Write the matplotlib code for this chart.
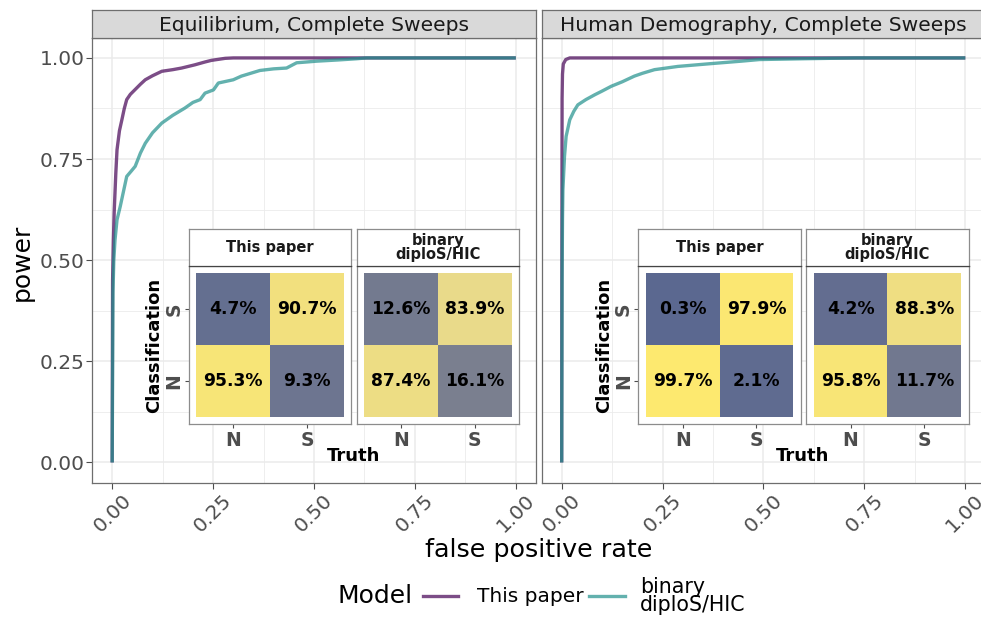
import numpy as np
import matplotlib
matplotlib.use("Agg")
import matplotlib.pyplot as plt
from matplotlib.lines import Line2D
from matplotlib.colors import Normalize, LinearSegmentedColormap

plt.rcParams['font.family'] = ['DejaVu Sans']

W, H, DPI = 981, 618, 100

panel_titles = ["Equilibrium, Complete Sweeps", "Human Demography, Complete Sweeps"]
model_names = ["This paper", "binary\ndiploS/HIC"]
model_colors = ["#440154", "#21908C"]

# ROC curves: equilibrium scenario
eq_paper_fpr = [0, 0.001, 0.003, 0.005, 0.009, 0.012, 0.018, 0.024, 0.03, 0.036, 0.045,
                0.057, 0.07, 0.082, 0.1, 0.123, 0.15, 0.172, 0.205, 0.23, 0.246, 0.28, 0.3, 1.0]
eq_paper_tpr = [0, 0.45, 0.55, 0.62, 0.715, 0.773, 0.82, 0.847, 0.875, 0.897, 0.91,
                0.922, 0.935, 0.946, 0.956, 0.967, 0.971, 0.975, 0.983, 0.99, 0.994, 0.999, 1.0, 1.0]
eq_diplos_fpr = [0, 0.002, 0.004, 0.007, 0.012, 0.02, 0.028, 0.036, 0.047, 0.057, 0.07, 0.082,
                 0.1, 0.123, 0.15, 0.18, 0.2, 0.218, 0.23, 0.251, 0.263, 0.3, 0.32, 0.366,
                 0.4, 0.432, 0.457, 0.507, 0.56, 0.606, 0.63, 1.0]
eq_diplos_tpr = [0, 0.42, 0.5, 0.55, 0.6, 0.633, 0.67, 0.707, 0.72, 0.732, 0.765, 0.789,
                 0.815, 0.839, 0.858, 0.876, 0.89, 0.897, 0.913, 0.921, 0.938, 0.946, 0.955, 0.969,
                 0.973, 0.975, 0.988, 0.992, 0.995, 0.998, 1.0, 1.0]

# ROC curves: human demography scenario
hum_paper_fpr = [0, 0.0005, 0.001, 0.002, 0.004, 0.01, 0.02, 1.0]
hum_paper_tpr = [0, 0.5, 0.9, 0.96, 0.985, 0.996, 1.0, 1.0]
hum_diplos_fpr = [0, 0.001, 0.002, 0.003, 0.007, 0.011, 0.02, 0.03, 0.04, 0.06, 0.082, 0.1,
                  0.123, 0.15, 0.18, 0.2, 0.23, 0.288, 0.371, 0.445, 0.49, 0.6, 0.73, 1.0]
hum_diplos_tpr = [0, 0.45, 0.6, 0.674, 0.757, 0.806, 0.847, 0.868, 0.884, 0.897, 0.909, 0.918,
                  0.93, 0.941, 0.955, 0.962, 0.971, 0.979, 0.986, 0.992, 0.996, 0.998, 1.0, 1.0]

# Confusion matrices in percent: rows = classification (N, S), columns = truth (N, S)
truth_labels = ["N", "S"]
class_labels = ["N", "S"]
eq_paper_cm = [[95.3, 9.3], [4.7, 90.7]]
eq_diplos_cm = [[87.4, 16.1], [12.6, 83.9]]
hum_paper_cm = [[99.7, 2.1], [0.3, 97.9]]
hum_diplos_cm = [[95.8, 11.7], [4.2, 88.3]]

roc_data = [
    [(eq_paper_fpr, eq_paper_tpr), (eq_diplos_fpr, eq_diplos_tpr)],
    [(hum_paper_fpr, hum_paper_tpr), (hum_diplos_fpr, hum_diplos_tpr)],
]
cm_data = [[eq_paper_cm, eq_diplos_cm], [hum_paper_cm, hum_diplos_cm]]

GRID = "#EBEBEB"
BORDER = "#6E6E6E"
TICKC = "#4D4D4D"

# muted slate-to-yellow fill for the percentage tiles
tile_cmap = LinearSegmentedColormap.from_list(
    "slate_yellow",
    [(0.0, "#5B6890"), (0.2, "#82848F"), (0.5, "#B3AE96"), (0.8, "#E4D691"), (1.0, "#FDE96F")],
)
norm = Normalize(0, 100)

fig = plt.figure(figsize=(W / DPI, H / DPI), dpi=DPI)


def px_axes(x0, y0, x1, y1, **kw):
    return fig.add_axes([x0 / W, 1 - y1 / H, (x1 - x0) / W, (y1 - y0) / H], **kw)


panel_px = [(92, 37.7, 536, 482.7), (541.5, 37.7, 985.5, 482.7)]
ticks = [0, 0.25, 0.5, 0.75, 1.0]
minor = [0.125, 0.375, 0.625, 0.875]

for p, (x0, y0, x1, y1) in enumerate(panel_px):
    ax = px_axes(x0, y0, x1, y1)
    ax.set_xlim(-0.05, 1.05)
    ax.set_ylim(-0.05, 1.05)
    ax.set_xticks(ticks)
    ax.set_xticklabels([f"{t:.2f}" for t in ticks], rotation=45, ha="center")
    ax.set_yticks(ticks)
    ax.set_yticklabels([f"{t:.2f}" for t in ticks])
    ax.set_xticks(minor, minor=True)
    ax.set_yticks(minor, minor=True)
    ax.grid(which="major", color=GRID, lw=1.1)
    ax.grid(which="minor", color=GRID, lw=0.6)
    ax.set_axisbelow(True)
    ax.tick_params(which="minor", length=0)
    ax.tick_params(which="major", length=4, width=0.8, color=TICKC, labelcolor=TICKC,
                   labelsize=14.5)
    ax.tick_params(axis="y", pad=1.5)
    ax.tick_params(axis="x", pad=2)
    if p == 1:
        ax.tick_params(axis="y", left=False, labelleft=False)
    for s in ax.spines.values():
        s.set_color(BORDER)
        s.set_linewidth(0.9)

    for (fpr, tpr), col in zip(roc_data[p], model_colors):
        ax.plot(fpr, tpr, color=col, alpha=0.7, lw=2.4, solid_capstyle="butt", zorder=3)

    # facet strip
    st = px_axes(x0, 10, x1, y0)
    st.set_facecolor("#D9D9D9")
    st.set_xticks([])
    st.set_yticks([])
    for s in st.spines.values():
        s.set_color(BORDER)
        s.set_linewidth(0.9)
    st.text(0.5, 0.45, panel_titles[p], ha="center", va="center", fontsize=14.6,
            color="#1A1A1A", transform=st.transAxes)

    # confusion matrix insets
    boxes = [(0.19, 0.592), (0.606, 1.008)]
    ylo, yhi, ystrip = 0.0958, 0.485, 0.578
    for k, (bx0, bx1) in enumerate(boxes):
        ia = ax.inset_axes([bx0, ylo, bx1 - bx0, yhi - ylo], transform=ax.transData)
        vals = np.array(cm_data[p][k])
        ia.pcolormesh([0.5, 1.5, 2.5], [0.5, 1.5, 2.5], vals, cmap=tile_cmap, norm=norm,
                      edgecolors="none")
        for i in range(2):
            for j in range(2):
                ia.text(j + 1, i + 1, f"{vals[i, j]:.1f}%", ha="center", va="center",
                        fontsize=12.3, fontweight="bold", color="black")
        ia.set_xlim(0.4, 2.6)
        ia.set_ylim(0.4, 2.6)
        ia.set_facecolor("white")
        ia.set_xticks([1, 2])
        ia.set_xticklabels(truth_labels, fontweight="bold", fontsize=13.5)
        ia.tick_params(axis="x", length=3, color=TICKC, labelcolor=TICKC, pad=2)
        if k == 0:
            ia.set_yticks([1, 2])
            ia.set_yticklabels(class_labels, rotation=90, va="center",
                               fontweight="bold", fontsize=13.5)
            ia.tick_params(axis="y", length=3, color=TICKC, labelcolor=TICKC, pad=1)
        else:
            ia.set_yticks([])
        for s in ia.spines.values():
            s.set_color("#8C8C8C")
            s.set_linewidth(0.9)

        sa = ax.inset_axes([bx0, yhi, bx1 - bx0, ystrip - yhi], transform=ax.transData)
        sa.set_facecolor("white")
        sa.set_xticks([])
        sa.set_yticks([])
        for s in sa.spines.values():
            s.set_color("#8C8C8C")
            s.set_linewidth(0.9)
        sa.spines["bottom"].set_color("#444444")
        sa.text(0.5, 0.5, model_names[k], ha="center", va="center", fontsize=10.5,
                fontweight="bold", color="#1A1A1A", linespacing=0.85,
                transform=sa.transAxes)

    ax.text(0.104, 0.29, "Classification", rotation=90, ha="center", va="center",
            fontsize=13, fontweight="bold", transform=ax.transData, zorder=6)
    ax.text(0.597, 0.017, "Truth", ha="center", va="center", fontsize=13,
            fontweight="bold", transform=ax.transData, zorder=6)

# axis titles
fig.text(539 / W, 1 - 550 / H, "false positive rate", ha="center", va="center", fontsize=18.3)
fig.text(22 / W, 1 - 262 / H, "power", ha="center", va="center", rotation=90, fontsize=18)

# legend
ly = 1 - 596 / H
fig.text(338 / W, ly, "Model", ha="left", va="center", fontsize=18)
for (lx0, lx1), col in zip([(423, 458), (589, 625)], model_colors):
    fig.add_artist(Line2D([lx0 / W, lx1 / W], [ly, ly], transform=fig.transFigure,
                          color=col, alpha=0.7, lw=2.4))
fig.text(477 / W, ly, model_names[0], ha="left", va="center", fontsize=14.5)
fig.text(640 / W, ly, model_names[1], ha="left", va="center", fontsize=14.8,
         linespacing=0.85)

fig.savefig("out.png", dpi=DPI)
